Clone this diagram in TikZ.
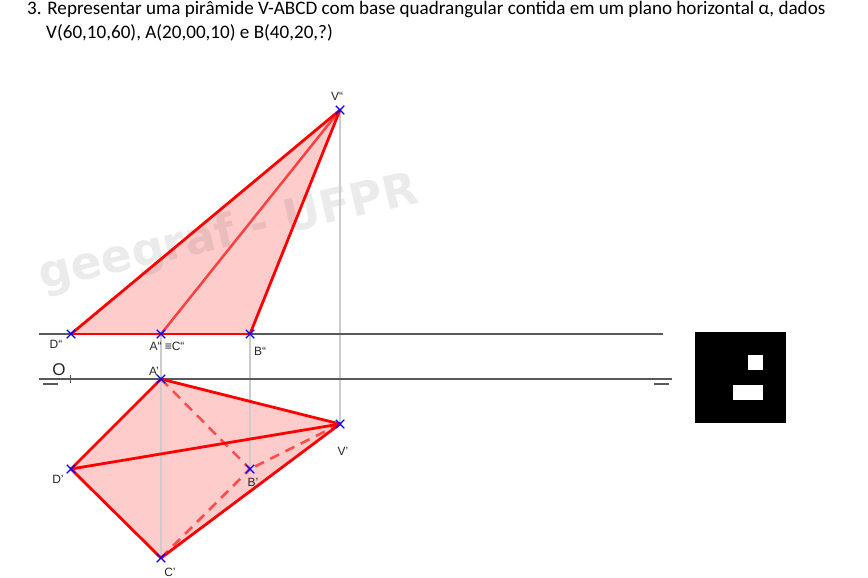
\documentclass[tikz,border=0pt]{standalone}
\usepackage{fontspec}
\setmainfont{Liberation Sans}
\newfontfamily\titlefont{Carlito}
\newfontfamily\markfont{DejaVu Sans}
\usetikzlibrary{shapes.misc,backgrounds}
\tikzset{
	point/.style={cross out, draw=blue, line width=1.3pt, minimum size=8.5pt, inner sep=0pt, outer sep=0pt},
	tag/.style={font=\fontsize{12}{14}\selectfont, text=black!85, inner sep=0pt},
	edge/.style={red, line width=2.8pt, line cap=round},
	inner/.style={red!75!white, line width=2.5pt},
	hidden/.style={red!70!white, line width=2.5pt, dash pattern=on 10pt off 7pt},
	face/.style={fill=red, fill opacity=0.2},
	recall/.style={black!20, line width=1.2pt},
	axis/.style={black!65, line width=1.1pt},
	statement/.style={anchor=base west, inner sep=0pt, font=\titlefont\fontsize{19.1}{22}\selectfont},
}

\begin{document}
\begin{tikzpicture}[x=1pt, y=-1pt]
	\useasboundingbox (0,0) rectangle (868,578);
	
	% Statement
	\node[statement] (line1) at (27,15) {3. Representar uma pirâmide V-ABCD com base quadrangular contida em um plano horizontal α, dados};
	\node[statement] (line2) at (46,39) {V(60,10,60), A(20,00,10) e B(40,20,?)};
	
	% Frontal projection points
	\node[point] (vf) at (340,110) {};
	\node[point] (df) at (71,334) {};
	\node[point] (af) at (161,334) {};
	\node[point] (bf) at (250,334) {};
	
	% Horizontal projection points
	\node[point] (ah) at (161,379) {};
	\node[point] (vh) at (340,424) {};
	\node[point] (bh) at (250,469) {};
	\node[point] (dh) at (71,469) {};
	\node[point] (ch) at (161,558) {};
	
	% Ground line
	\coordinate (gl1) at (39,379);
	\coordinate (gl2) at (672,379);
	\coordinate (fl1) at (39,334);
	\coordinate (fl2) at (663,334);
	\coordinate (t1) at (70,375);
	\coordinate (t2) at (70,383);
	\coordinate (ml1) at (43,384);
	\coordinate (ml2) at (58,384);
	\coordinate (mr1) at (654,384);
	\coordinate (mr2) at (669,384);
	
	\begin{pgfonlayer}{background}
		% Faces
		\fill[face] (vf.center) -- (df.center) -- (bf.center) -- cycle;
		\fill[face] (ah.center) -- (vh.center) -- (ch.center) -- (dh.center) -- cycle;
		
		% Watermark
		\node[rotate=13, font=\markfont\bfseries\fontsize{45.6}{48}\selectfont, text=black, text opacity=0.08, inner sep=0pt] (mark) at (229,234) {geegraf - UFPR};
		
		% Recall lines
		\draw[recall] (af.center) -- (ch.center);
		\draw[recall] (bf.center) -- (bh.center);
		\draw[recall] (vf.center) -- (vh.center);
		
		% Axis
		\draw[axis] (fl1) -- (fl2);
		\draw[axis] (gl1) -- (gl2);
		\draw[axis, line width=.7pt] (t1) -- (t2);
		\draw[axis] (ml1) -- (ml2);
		\draw[axis] (mr1) -- (mr2);
		
		% Frontal edges
		\draw[inner] (vf.center) -- (af.center);
		\draw[edge] (vf.center) -- (df.center);
		\draw[edge] (vf.center) -- (bf.center);
		\draw[edge] (df.center) -- (bf.center);
		
		% Horizontal edges
		\draw[hidden] (ah.center) -- (bh.center);
		\draw[hidden] (vh.center) -- (bh.center);
		\draw[hidden] (ch.center) -- (bh.center);
		\draw[edge] (ah.center) -- (vh.center);
		\draw[edge] (ah.center) -- (dh.center);
		\draw[edge] (dh.center) -- (ch.center);
		\draw[edge] (ch.center) -- (vh.center);
		\draw[edge] (dh.center) -- (vh.center);
	\end{pgfonlayer}
	
	% Labels
	\node[tag] (lvf) at (337,96) {V“};
	\node[tag] (ldf) at (56,344) {D“};
	\node[tag] (laf) at (167,346) {A“ ≡C“};
	\node[tag] (lbf) at (260,351) {B“};
	\node[tag] (lah) at (154,371) {A'};
	\node[tag] (lvh) at (343,451) {V'};
	\node[tag] (lbh) at (253,482) {B'};
	\node[tag] (ldh) at (58,479) {D'};
	\node[tag] (lch) at (170,572) {C'};
	\node[tag, font=\fontsize{17}{18}\selectfont] (origin) at (59,370) {O};
	
	% Black box
	\fill[black] (695,332) rectangle (786,423);
	\fill[white] (748,355) rectangle (763,370);
	\fill[white] (733,385) rectangle (763,400);
\end{tikzpicture}
\end{document}
